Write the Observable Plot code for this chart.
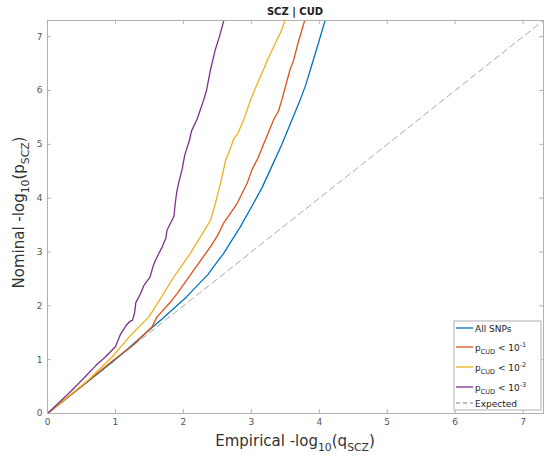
<!DOCTYPE html>
<html>
<head>
<meta charset="utf-8">
<script src="https://cdn.jsdelivr.net/npm/d3@7"></script>
<script src="https://cdn.jsdelivr.net/npm/@observablehq/plot@0.6"></script>
<style>
  html, body { margin: 0; padding: 0; background: #fff; }
  #chart svg { display: block; }
</style>
</head>
<body>
<div id="chart"></div>
<script>
// ---- data ----
const seriesNames = ["All SNPs", "pCUD < 10^-1", "pCUD < 10^-2", "pCUD < 10^-3"];
const seriesColors = ["#0072BD", "#D95319", "#EDB120", "#7E2F8E"];

const allX = [0, 0.3, 0.6, 0.95, 1.2, 1.45, 1.69, 2.05, 2.2, 2.36, 2.47, 2.59, 2.84, 3.03, 3.16, 3.28, 3.45, 3.6, 3.72, 3.8, 3.87, 3.98, 4.09];
const allY = [0, 0.3, 0.6, 0.95, 1.22, 1.5, 1.76, 2.17, 2.37, 2.58, 2.77, 2.97, 3.47, 3.9, 4.2, 4.53, 5.0, 5.46, 5.83, 6.1, 6.39, 6.85, 7.32];

const p1X = [0, 0.3, 0.6, 0.95, 1.25, 1.54, 1.61, 1.83, 1.91, 2.15, 2.4, 2.5, 2.59, 2.79, 2.94, 3.01, 3.1, 3.18, 3.33, 3.4, 3.45, 3.57, 3.62, 3.68, 3.79];
const p1Y = [0, 0.3, 0.61, 0.97, 1.26, 1.61, 1.79, 2.1, 2.23, 2.66, 3.1, 3.3, 3.53, 3.9, 4.28, 4.53, 4.75, 5.0, 5.46, 5.62, 5.83, 6.39, 6.55, 6.85, 7.32];

const p2X = [0, 0.3, 0.61, 0.95, 1.2, 1.44, 1.49, 1.66, 1.86, 2.1, 2.25, 2.4, 2.46, 2.52, 2.57, 2.62, 2.7, 2.74, 2.8, 2.89, 2.99, 3.08, 3.18, 3.25, 3.38, 3.44, 3.5];
const p2Y = [0, 0.31, 0.63, 1.05, 1.42, 1.73, 1.79, 2.13, 2.54, 2.97, 3.28, 3.59, 3.85, 4.15, 4.4, 4.7, 4.95, 5.1, 5.2, 5.46, 5.83, 6.1, 6.39, 6.6, 6.95, 7.1, 7.32];

const p3X = [0, 0.31, 0.53, 0.71, 0.85, 1.0, 1.07, 1.16, 1.21, 1.25, 1.28, 1.3, 1.37, 1.42, 1.51, 1.55, 1.59, 1.69, 1.74, 1.76, 1.86, 1.87, 1.88, 1.9, 1.93, 1.98, 2.02, 2.09, 2.12, 2.2, 2.3, 2.34, 2.4, 2.43, 2.47, 2.53, 2.6];
const p3Y = [0, 0.37, 0.65, 0.89, 1.05, 1.24, 1.46, 1.64, 1.71, 1.73, 1.86, 2.06, 2.23, 2.38, 2.54, 2.72, 2.85, 3.1, 3.25, 3.41, 3.66, 3.78, 3.9, 4.1, 4.28, 4.53, 4.8, 5.08, 5.25, 5.46, 5.83, 6.0, 6.39, 6.55, 6.76, 7.0, 7.32];

const expectedX = [0, 7.3];
const expectedY = [0, 7.3];

const xTicks = [0, 1, 2, 3, 4, 5, 6, 7];
const yTicks = [0, 1, 2, 3, 4, 5, 6, 7];
const domainMax = 7.3;

// ---- build table ----
const xs = [allX, p1X, p2X, p3X];
const ys = [allY, p1Y, p2Y, p3Y];
const rows = [];
seriesNames.forEach((name, i) => {
  xs[i].forEach((x, j) => rows.push({series: name, x, y: ys[i][j]}));
});
const expected = expectedX.map((x, i) => ({x, y: expectedY[i]}));

const W = 545, H = 463;
const mL = 47, mR = 2, mT = 20, mB = 50;
const axisColor = "#b0b0b0";
const tickLen = 0.09;

const marks = [
  Plot.ruleX(xTicks, {x: d => d, y1: 0, y2: tickLen * 0.8, stroke: axisColor}),
  Plot.ruleX(xTicks, {x: d => d, y1: domainMax - tickLen * 0.8, y2: domainMax, stroke: axisColor}),
  Plot.ruleY(yTicks, {y: d => d, x1: 0, x2: tickLen * 0.62, stroke: axisColor}),
  Plot.ruleY(yTicks, {y: d => d, x1: domainMax - tickLen * 0.62, x2: domainMax, stroke: axisColor}),
  Plot.line(expected, {x: "x", y: "y", stroke: "#a8a8a8", strokeWidth: 1, strokeDasharray: "6,4"}),
];
seriesNames.forEach((name, i) => {
  marks.push(Plot.line(rows.filter(r => r.series === name), {
    x: "x", y: "y", stroke: seriesColors[i], strokeWidth: 1.3, clip: true
  }));
});
marks.push(Plot.frame({stroke: axisColor}));

const svg = Plot.plot({
  width: W, height: H,
  marginLeft: mL, marginRight: mR, marginTop: mT, marginBottom: mB,
  style: {fontFamily: "DejaVu Sans, sans-serif", fontSize: "9px", color: "#555", background: "#fff"},
  x: {domain: [0, domainMax], ticks: xTicks, tickSize: 0, tickPadding: 5, label: null, tickFormat: d3.format("d")},
  y: {domain: [0, domainMax], ticks: yTicks, tickSize: 0, tickPadding: 5, label: null, tickFormat: d3.format("d")},
  marks
});
document.getElementById("chart").appendChild(svg);

// ---- annotations ----
const s = d3.select(svg);
const ff = "DejaVu Sans, sans-serif";
const cx = mL + (W - mL - mR) / 2;
const cy = mT + (H - mT - mB) / 2;

s.append("text").attr("x", cx).attr("y", 15).attr("text-anchor", "middle")
  .attr("font-family", ff).attr("font-size", 10).attr("font-weight", "bold").attr("fill", "#222")
  .text("SCZ | CUD");

function labelWithSub(g, main, sub1, mid, sub2, end, size) {
  const subSize = size * 0.72, d = size * 0.3;
  g.append("tspan").text(main);
  g.append("tspan").attr("font-size", subSize).attr("dy", d).text(sub1);
  g.append("tspan").attr("dy", -d).text(mid);
  g.append("tspan").attr("font-size", subSize).attr("dy", d).text(sub2);
  g.append("tspan").attr("dy", -d).text(end);
}

const xl = s.append("text").attr("x", cx).attr("y", 446).attr("text-anchor", "middle")
  .attr("font-family", ff).attr("font-size", 15).attr("fill", "#333");
labelWithSub(xl, "Empirical -log", "10", "(q", "SCZ", ")", 15);

const yl = s.append("text").attr("transform", `translate(24,${cy - 4}) rotate(-90)`).attr("text-anchor", "middle")
  .attr("font-family", ff).attr("font-size", 15).attr("fill", "#333");
labelWithSub(yl, "Nominal -log", "10", "(p", "SCZ", ")", 15);

// legend
const lg = s.append("g").attr("text-anchor", "start");
const lx = 454, ly = 321, lw = 87, lh = 89;
lg.append("rect").attr("x", lx).attr("y", ly).attr("width", lw).attr("height", lh)
  .attr("fill", "#fff").attr("stroke", axisColor);
const rowY = [328, 347, 367, 387, 403];
const sups = ["-1", "-2", "-3"];
const entries = seriesNames.map((n, i) => ({i, color: seriesColors[i], dash: null})).concat([{i: 4, color: "#a8a8a8", dash: "4,3"}]);
entries.forEach(e => {
  const yy = rowY[e.i];
  const ln = lg.append("line").attr("x1", lx + 2).attr("x2", lx + 19).attr("y1", yy).attr("y2", yy)
    .attr("stroke", e.color).attr("stroke-width", 1.3);
  if (e.dash) ln.attr("stroke-dasharray", e.dash);
  const t = lg.append("text").attr("x", lx + 21).attr("y", yy + 3.5).attr("text-anchor", "start")
    .attr("font-family", ff).attr("font-size", 9).attr("fill", "#222");
  if (e.i === 0) t.text("All SNPs");
  else if (e.i === 4) t.text("Expected");
  else {
    t.append("tspan").text("p");
    t.append("tspan").attr("font-size", 6.5).attr("dy", 3).text("CUD");
    t.append("tspan").attr("dy", -3).text(" < 10");
    t.append("tspan").attr("font-size", 6.5).attr("dy", -4).text(sups[e.i - 1]);
  }
});
</script>
</body>
</html>
